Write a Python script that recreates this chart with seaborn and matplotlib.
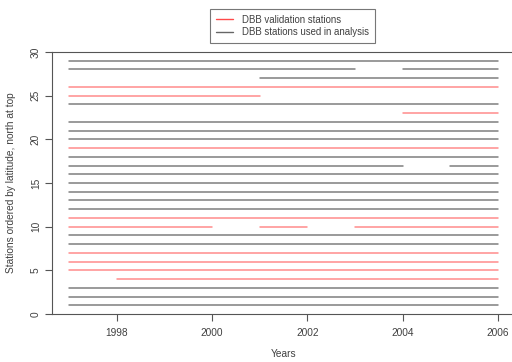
import numpy as np
import pandas as pd
import matplotlib
matplotlib.use("Agg")
import matplotlib.pyplot as plt
from matplotlib.lines import Line2D
import seaborn as sns

# Station record segments: station index (south -> north), start year, end year, role
seg_station = [1, 2, 3, 4, 5, 6, 7, 8, 9,
               10, 10, 10,
               11, 12, 13, 14, 15, 16,
               17, 17,
               18, 19, 20, 21, 22, 23, 24, 25, 26, 27,
               28, 28,
               29]
seg_start = [1997, 1997, 1997, 1998, 1997, 1997, 1997, 1997, 1997,
             1997, 2001, 2003,
             1997, 1997, 1997, 1997, 1997, 1997,
             1997, 2005,
             1997, 1997, 1997, 1997, 1997, 2004, 1997, 1997, 1997, 2001,
             1997, 2004,
             1997]
seg_end = [2006, 2006, 2006, 2006, 2006, 2006, 2006, 2006, 2006,
           2000, 2002, 2006,
           2006, 2006, 2006, 2006, 2006, 2006,
           2004, 2006,
           2006, 2006, 2006, 2006, 2006, 2006, 2006, 2001, 2006, 2006,
           2003, 2006,
           2006]
seg_role = ["analysis", "analysis", "analysis", "validation", "validation",
            "validation", "validation", "analysis", "analysis",
            "validation", "validation", "validation",
            "validation", "analysis", "analysis", "analysis", "analysis", "analysis",
            "analysis", "analysis",
            "analysis", "validation", "analysis", "analysis", "analysis",
            "validation", "analysis", "validation", "validation", "analysis",
            "analysis", "analysis",
            "analysis"]

x_ticks = [1998, 2000, 2002, 2004, 2006]
y_ticks = [0, 5, 10, 15, 20, 25, 30]
legend_labels = ["DBB validation stations", "DBB stations used in analysis"]

# Long-form table: two points (start, end) per segment
rows = []
for i, (s, a, b, r) in enumerate(zip(seg_station, seg_start, seg_end, seg_role)):
    rows.append({"seg": i, "year": a, "station": s, "role": r})
    rows.append({"seg": i, "year": b, "station": s, "role": r})
df = pd.DataFrame(rows)

red = "#ff8c8c"
gray = "#7f7f7f"
palette = {"validation": red, "analysis": gray}

sns.set_style("white")
plt.rcParams["font.family"] = ["Liberation Sans", "DejaVu Sans"]

fig = plt.figure(figsize=(5.12, 3.62), dpi=100)
ax = fig.add_axes([52 / 512, 1 - 314 / 362, (515 - 52) / 512, (314 - 52) / 362])

sns.lineplot(data=df, x="year", y="station", hue="role", units="seg",
             estimator=None, palette=palette, linewidth=1.1, legend=False,
             ax=ax, sort=False)

ax.set_xlim(1997 - 0.36, 2006 + 0.36)
ax.set_ylim(0, 30)
ax.set_xticks(x_ticks)
ax.set_yticks(y_ticks)
ax.set_xticklabels([str(t) for t in x_ticks], fontsize=7.3, color="#404040")
ax.set_yticklabels([str(t) for t in y_ticks], fontsize=7.3, color="#404040",
                   rotation=90, va="center")
ax.tick_params(axis="both", direction="out", length=5, width=0.8,
               color="#555555", left=True, bottom=True)
ax.tick_params(axis="y", pad=3)
ax.tick_params(axis="x", pad=5)
for sp in ax.spines.values():
    sp.set_visible(True)
    sp.set_color("#555555")
    sp.set_linewidth(0.8)

ax.set_xlabel("Years", fontsize=7.3, color="#404040", labelpad=8)
ax.set_ylabel("Stations ordered by latitude, north at top", fontsize=7.3,
              color="#404040", labelpad=11)

handles = [Line2D([], [], color="#ff4a4a", lw=1.0),
           Line2D([], [], color="#666666", lw=1.0)]
leg = fig.legend(handles, legend_labels, loc="center",
                 bbox_to_anchor=(292.5 / 512, 1 - 26 / 362),
                 fontsize=6.9, frameon=True, fancybox=False, handlelength=1.8,
                 handletextpad=0.9, borderpad=0.6, labelspacing=0.25)
leg.get_frame().set_edgecolor("#555555")
leg.get_frame().set_linewidth(0.8)
for t in leg.get_texts():
    t.set_color("#404040")

fig.savefig("out.png", dpi=100)
